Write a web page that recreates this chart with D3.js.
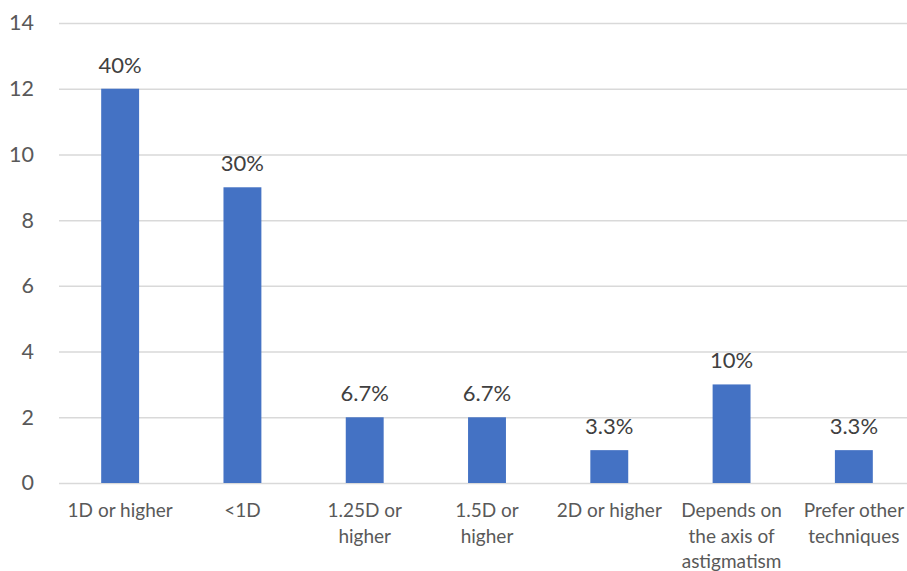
<!DOCTYPE html>
<html>
<head>
<meta charset="utf-8">
<script src="https://cdn.jsdelivr.net/npm/d3@7"></script>
<style>
  html, body { margin: 0; padding: 0; background: #fff; }
  svg { display: block; }
  svg text { font-family: Lato, "Open Sans", sans-serif; }
</style>
</head>
<body>
<svg id="chart" width="907" height="571"></svg>
<script>
// Responses per minimum astigmatism threshold
const categories = [
  "1D or higher",
  "<1D",
  "1.25D or\nhigher",
  "1.5D or\nhigher",
  "2D or higher",
  "Depends on\nthe axis of\nastigmatism",
  "Prefer other\ntechniques"
];
const counts = [12, 9, 2, 2, 1, 3, 1];
const shareLabels = ["40%", "30%", "6.7%", "6.7%", "3.3%", "10%", "3.3%"];
const yTicks = [0, 2, 4, 6, 8, 10, 12, 14];

const FONT = "Lato, 'Open Sans', sans-serif";
const svg = d3.select("#chart");
const plot = { left: 59, right: 915, top: 23, bottom: 483 };

const x = d3.scaleBand()
  .domain(categories)
  .range([plot.left, plot.right])
  .paddingInner(0.69)
  .paddingOuter(0.345);

const y = d3.scaleLinear()
  .domain([0, 14])
  .range([plot.bottom, plot.top]);

// Horizontal gridlines with value labels on the left
const yAxis = d3.axisLeft(y)
  .tickValues(yTicks)
  .tickSize(-(plot.right - plot.left))
  .tickPadding(25)
  .tickFormat(d3.format("d"));

const yg = svg.append("g")
  .attr("transform", `translate(${plot.left},0)`)
  .call(yAxis)
  .attr("font-family", FONT);
yg.select(".domain").remove();
yg.selectAll(".tick line").attr("stroke", "#d9d9d9").attr("stroke-width", 1.5);
yg.selectAll(".tick text")
  .attr("fill", "#595959")
  .attr("font-size", 21.5);

// Bars
svg.append("g").selectAll("rect")
  .data(counts)
  .join("rect")
  .attr("x", (d, i) => x(categories[i]))
  .attr("y", d => y(d))
  .attr("width", x.bandwidth())
  .attr("height", d => y(0) - y(d))
  .attr("fill", "#4472c4");

// Percentage labels above bars
svg.append("g").selectAll("text")
  .data(counts)
  .join("text")
  .attr("x", (d, i) => x(categories[i]) + x.bandwidth() / 2)
  .attr("y", d => y(d) - 16)
  .attr("text-anchor", "middle")
  .attr("fill", "#404040")
  .attr("font-size", 22)
  .text((d, i) => shareLabels[i]);

// Category labels, split across lines
const xg = svg.append("g")
  .attr("transform", `translate(0,${plot.bottom})`)
  .call(d3.axisBottom(x).tickSize(0).tickFormat(""))
  .attr("font-family", FONT);
xg.select(".domain").remove();

xg.selectAll(".tick").each(function(d) {
  const t = d3.select(this).append("text")
    .attr("fill", "#595959")
    .attr("font-size", 19)
    .attr("text-anchor", "middle")
    .attr("y", 34);
  d.split("\n").forEach((line, k) => {
    t.append("tspan").attr("x", 0).attr("dy", k === 0 ? 0 : 25.5).text(line);
  });
});
</script>
</body>
</html>
